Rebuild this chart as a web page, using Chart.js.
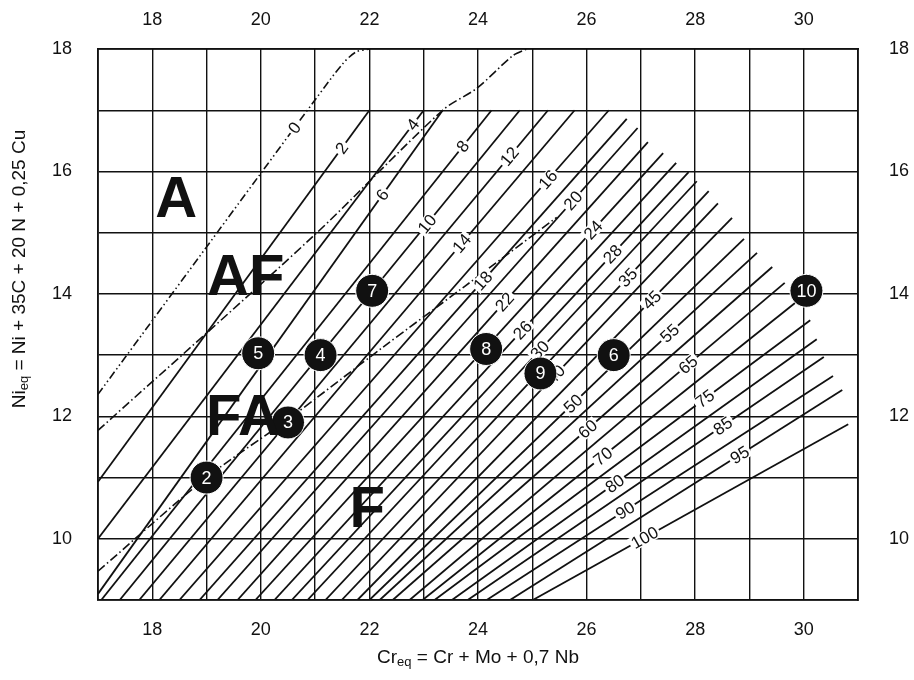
<!DOCTYPE html>
<html>
<head>
<meta charset="utf-8">
<script src="https://cdn.jsdelivr.net/npm/chart.js@4.4.1/dist/chart.umd.min.js"></script>
<style>
  html, body { margin: 0; padding: 0; background: #fff; }
  #wrap { width: 914px; height: 680px; }
</style>
</head>
<body>
<div id="wrap"><canvas id="wrc" width="914" height="680"></canvas></div>
<script>
// Diagramme WRC-1992 : lignes iso-FN (ferrite number)
const fnValues = [2, 4, 6, 8, 10, 12, 14, 16, 18, 20, 22, 24, 26, 28, 30, 35, 40, 45, 50, 55, 60, 65, 70, 75, 80, 85, 90, 95, 100];
const fnStartX = [17, 17, 17, 17.06, 17.40, 17.76, 18.13, 18.50, 18.87, 19.20, 19.57, 19.90, 20.25, 20.57, 20.86, 21.19, 21.49, 21.78, 22.0, 22.19, 22.43, 22.74, 22.98, 23.20, 23.52, 23.81, 24.16, 24.59, 25.01];
const fnStartY = [10.93, 10.0, 9.1, 9, 9, 9, 9, 9, 9, 9, 9, 9, 9, 9, 9, 9, 9, 9, 9, 9, 9, 9, 9, 9, 9, 9, 9, 9, 9];
const fnEndX = [22.0, 23.0, 23.35, 24.25, 24.77, 25.29, 25.78, 26.41, 26.74, 26.94, 27.13, 27.41, 27.65, 27.88, 28.03, 28.25, 28.42, 28.68, 28.90, 29.14, 29.42, 29.65, 29.84, 30.12, 30.24, 30.37, 30.54, 30.71, 30.82];
const fnEndY = [17, 17, 17, 17, 17, 17, 17, 17, 16.86, 16.71, 16.48, 16.30, 16.14, 15.99, 15.84, 15.68, 15.48, 15.24, 14.90, 14.67, 14.44, 14.18, 13.85, 13.57, 13.26, 12.97, 12.66, 12.43, 11.87];
const fnLabelX = [21.49, 22.80, 22.24, 23.72, 23.06, 24.58, 23.70, 25.29, 24.09, 25.75, 24.49, 26.12, 24.82, 26.48, 25.14, 26.76, 25.43, 27.20, 25.75, 27.53, 26.02, 27.87, 26.30, 28.18, 26.52, 28.51, 26.71, 28.82, 27.07];

// frontières (tirets-points)
const zeroX = [17, 20.0, 21.0, 21.5, 21.75, 22.0];
const zeroY = [12.36, 15.97, 17.17, 17.75, 17.95, 18.0];
const zeroLabelX = 20.62;
const afFaX = [17, 20.95, 23.35, 23.98, 24.64, 24.9];
const afFaY = [11.77, 14.93, 17.0, 17.36, 17.89, 18.0];
const faFX = [17, 19.0, 20.5, 22.25, 23.75, 25.45];
const faFY = [9.47, 11.0, 11.95, 13.13, 14.12, 15.25];

// soudures repérées
const weldIds = ['2', '3', '4', '5', '6', '7', '8', '9', '10'];
const weldX = [19.0, 20.5, 21.1, 19.95, 26.5, 22.05, 24.15, 25.15, 30.05];
const weldY = [11.0, 11.9, 13.0, 13.03, 13.0, 14.05, 13.1, 12.7, 14.05];

// zones de structure
const zoneNames = ['A', 'AF', 'FA', 'F'];
const zoneX = [18.44, 19.72, 19.67, 21.96];
const zoneY = [15.25, 13.98, 11.69, 10.19];

const xTicks = [18, 20, 22, 24, 26, 28, 30];
const yTicks = [10, 12, 14, 16, 18];

const FONT = '"Liberation Sans", Arial, Helvetica, sans-serif';
const INK = '#111';

const pts = (xs, ys) => xs.map((x, i) => ({ x: x, y: ys[i] }));

const datasets = [];
datasets.push({
    data: pts(weldX, weldY),
    showLine: false,
    pointRadius: 16.5,
    pointBackgroundColor: INK,
    pointBorderColor: '#fff',
    pointBorderWidth: 1,
    order: -1,
});
fnValues.forEach((fn, i) => {
    datasets.push({
        type: 'line',
        data: [{ x: fnStartX[i], y: fnStartY[i] }, { x: fnEndX[i], y: fnEndY[i] }],
        borderColor: INK,
        borderWidth: 1.8,
        pointRadius: 0,
        order: 2,
    });
});
[[zeroX, zeroY, [8, 3, 1.5, 3, 1.5, 3]], [afFaX, afFaY, [9, 3, 1.5, 3]], [faFX, faFY, [9, 3, 1.5, 3]]].forEach(b => {
    datasets.push({
        type: 'line',
        data: pts(b[0], b[1]),
        borderColor: INK,
        borderWidth: 1.6,
        borderDash: b[2],
        pointRadius: 0,
        tension: 0.3,
        order: 1,
    });
});

function evenLabel(v) {
    return v % 2 === 0 ? String(v) : '';
}

function lineLabel(ctx, chart, xs, ys, lx, txt) {
    const sx = chart.scales.x, sy = chart.scales.y;
    let k = 0;
    while (k < xs.length - 2 && xs[k + 1] < lx) k++;
    const x1 = sx.getPixelForValue(xs[k]), y1 = sy.getPixelForValue(ys[k]);
    const x2 = sx.getPixelForValue(xs[k + 1]), y2 = sy.getPixelForValue(ys[k + 1]);
    const px = sx.getPixelForValue(lx);
    const py = y1 + (px - x1) / (x2 - x1) * (y2 - y1);
    ctx.save();
    ctx.translate(px, py);
    ctx.rotate(Math.atan2(y2 - y1, x2 - x1));
    const w = ctx.measureText(txt).width;
    ctx.fillStyle = '#fff';
    ctx.fillRect(-w / 2 - 2, -7, w + 4, 14);
    ctx.fillStyle = INK;
    ctx.fillText(txt, 0, 1);
    ctx.restore();
}

const overlay = {
    id: 'overlay',
    beforeDatasetDraw(chart, args) {
        if (args.index !== 0) return;
        const ctx = chart.ctx;
        ctx.save();
        ctx.font = '17px ' + FONT;
        ctx.textAlign = 'center';
        ctx.textBaseline = 'middle';
        lineLabel(ctx, chart, zeroX, zeroY, zeroLabelX, '0');
        fnValues.forEach((fn, i) => {
            lineLabel(ctx, chart, [fnStartX[i], fnEndX[i]], [fnStartY[i], fnEndY[i]], fnLabelX[i], String(fn));
        });
        ctx.restore();
    },
    afterDatasetsDraw(chart) {
        const ctx = chart.ctx, sx = chart.scales.x, sy = chart.scales.y;
        ctx.save();
        ctx.fillStyle = '#fff';
        ctx.font = '18px ' + FONT;
        ctx.textAlign = 'center';
        ctx.textBaseline = 'middle';
        weldIds.forEach((id, i) => {
            ctx.fillText(id, sx.getPixelForValue(weldX[i]), sy.getPixelForValue(weldY[i]) + 1);
        });
        ctx.fillStyle = INK;
        ctx.font = 'bold 58px ' + FONT;
        ctx.textBaseline = 'alphabetic';
        zoneNames.forEach((z, i) => {
            ctx.fillText(z, sx.getPixelForValue(zoneX[i]), sy.getPixelForValue(zoneY[i]));
        });
        ctx.restore();
    },
    afterDraw(chart) {
        const ctx = chart.ctx;
        const ca = chart.chartArea;
        ctx.save();
        ctx.fillStyle = INK;
        ctx.textBaseline = 'alphabetic';
        // titre axe X
        drawSubTitle(ctx, 'Cr', 'eq', ' = Cr + Mo + 0,7 Nb', (ca.left + ca.right) / 2, 663);
        // titre axe Y
        ctx.translate(25, 269);
        ctx.rotate(-Math.PI / 2);
        drawSubTitle(ctx, 'Ni', 'eq', ' = Ni + 35C + 20 N + 0,25 Cu', 0, 0);
        ctx.restore();
    },
};

function drawSubTitle(ctx, a, sub, rest, cx, by) {
    const big = '19px ' + FONT, small = '13px ' + FONT;
    ctx.font = big;
    const wa = ctx.measureText(a).width, wr = ctx.measureText(rest).width;
    ctx.font = small;
    const ws = ctx.measureText(sub).width;
    let x = cx - (wa + ws + wr) / 2;
    ctx.textAlign = 'left';
    ctx.font = big;
    ctx.fillText(a, x, by);
    x += wa;
    ctx.font = small;
    ctx.fillText(sub, x, by + 3);
    x += ws;
    ctx.font = big;
    ctx.fillText(rest, x, by);
}

const tickFont = { family: FONT, size: 18 };

new Chart(document.getElementById('wrc'), {
    type: 'scatter',
    data: { datasets: datasets },
    options: {
        responsive: false,
        animation: false,
        devicePixelRatio: 1,
        layout: { padding: 0 },
        plugins: { legend: { display: false }, tooltip: { enabled: false } },
        scales: {
            x: {
                type: 'linear', position: 'bottom', min: 17, max: 31,
                afterFit(s) { s.height = 80; },
                afterBuildTicks(s) { s.ticks = Array.from({ length: 15 }, (_, i) => ({ value: 17 + i })); },
                ticks: { callback: evenLabel, autoSkip: false, maxRotation: 0, padding: 19, color: INK, font: tickFont },
                grid: { color: INK, lineWidth: 1.4, drawTicks: false },
                border: { color: INK, width: 1.8 },
            },
            x2: {
                type: 'linear', axis: 'x', position: 'top', min: 17, max: 31,
                afterFit(s) { s.height = 49; },
                afterBuildTicks(s) { s.ticks = xTicks.map(v => ({ value: v })); },
                ticks: { autoSkip: false, maxRotation: 0, padding: 18, color: INK, font: tickFont },
                grid: { display: false, drawTicks: false },
                border: { color: INK, width: 1.8 },
            },
            y: {
                type: 'linear', position: 'left', min: 9, max: 18,
                afterFit(s) { s.width = 98; },
                afterBuildTicks(s) { s.ticks = Array.from({ length: 10 }, (_, i) => ({ value: 9 + i })); },
                ticks: { callback: evenLabel, autoSkip: false, padding: 26, color: INK, font: tickFont },
                grid: { color: INK, lineWidth: 1.4, drawTicks: false },
                border: { color: INK, width: 1.8 },
            },
            y2: {
                type: 'linear', axis: 'y', position: 'right', min: 9, max: 18,
                afterFit(s) { s.width = 56; },
                afterBuildTicks(s) { s.ticks = yTicks.map(v => ({ value: v })); },
                ticks: { autoSkip: false, padding: 31, color: INK, font: tickFont },
                grid: { display: false, drawTicks: false },
                border: { color: INK, width: 1.8 },
            },
        },
    },
    plugins: [overlay],
});
</script>
</body>
</html>
